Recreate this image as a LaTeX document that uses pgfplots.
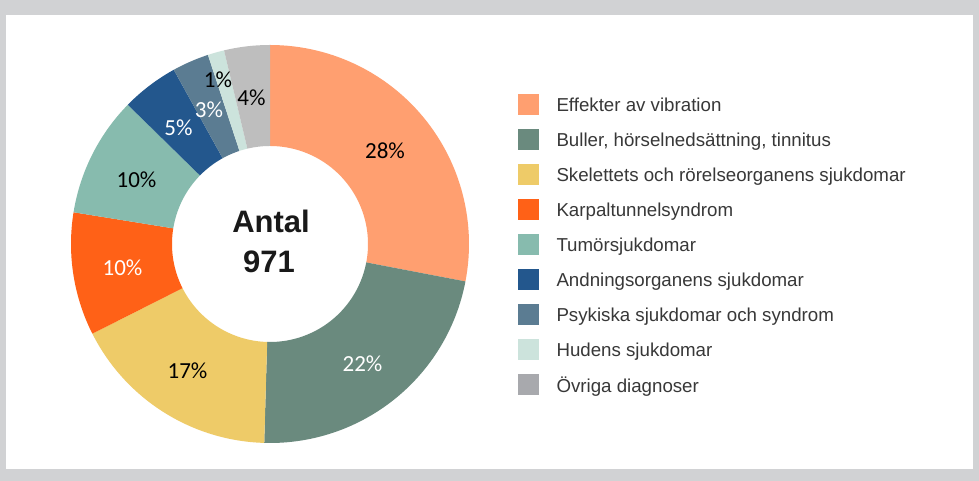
\documentclass[border=0pt]{standalone}
\usepackage{pgfplots}
\pgfplotsset{compat=1.18}
\usepackage{pgfplotstable}
\usepackage{fontspec}
\setmainfont{Liberation Sans}
\newfontfamily\calibri{Carlito}

\definecolor{bg}{HTML}{D1D2D4}
\definecolor{legtext}{HTML}{383838}
\definecolor{c0}{HTML}{FF9F70}
\definecolor{c1}{HTML}{6A8A7E}
\definecolor{c2}{HTML}{EECB68}
\definecolor{c3}{HTML}{FF6117}
\definecolor{c4}{HTML}{87BBAE}
\definecolor{c5}{HTML}{23578D}
\definecolor{c6}{HTML}{5B7C92}
\definecolor{c7}{HTML}{CCE3DC}
\definecolor{c8}{HTML}{BEBEBE}
\definecolor{l8}{HTML}{A8A9AD}

% Antal per diagnosgrupp (totalt 971)
\pgfplotstableread{
idx count
0 272
1 218
2 166
3 97
4 95
5 45
6 29
7 13
8 36
}\datatable

\def\total{0}
\pgfplotsforeachungrouped \i in {0,...,8}{%
  \pgfplotstablegetelem{\i}{count}\of\datatable
  \pgfmathsetmacro\total{\total+\pgfplotsretval}%
}

\begin{document}
\begin{tikzpicture}
\fill[bg] (0,0) rectangle (979pt,481pt);
\fill[white] (6pt,12pt) rectangle (973pt,466pt);
\begin{axis}[
  at={(0,0)}, anchor=south west,
  x=1pt, y=1pt, xmin=0, xmax=979, ymin=0, ymax=481,
  hide axis, clip=false,
  declare function={
    aa(\t,\p,\q)=(\t<=1) ? (\p+(\q-\p)*\t) : ((\t<=2) ? \q : ((\t<=3) ? (\q-(\q-\p)*(\t-2)) : \p));
    rr(\t)=(\t<=1) ? 199 : ((\t<=2) ? (199-101*(\t-1)) : ((\t<=3) ? 98 : (98+101*(\t-3))));
  },
  legend image code/.code={\fill[#1, draw=none] (0pt,-10.5pt) rectangle (21pt,10.5pt);},
  legend cell align=left,
  legend style={at={(axis cs:518,386.5)}, anchor=north west, draw=none, fill=none,
    inner sep=0pt, outer sep=0pt, row sep=14pt,
    font=\fontsize{18.7}{22}\selectfont, text=legtext,
    nodes={inner sep=0pt},
    /tikz/every odd column/.style={column sep=17.5pt}},
]
\def\cum{0}
\pgfplotsforeachungrouped \i in {0,...,8}{%
  \pgfplotstablegetelem{\i}{count}\of\datatable
  \pgfmathsetmacro\sa{90-(\cum/\total)*360}%
  \pgfmathsetmacro\cum{\cum+\pgfplotsretval}%
  \pgfmathsetmacro\sb{90-(\cum/\total)*360}%
  \edef\doit{\noexpand\addplot[fill=c\i, draw=none, domain=0:4, samples=241, forget plot]
    ({270+rr(\noexpand\x)*cos(aa(\noexpand\x,\sa,\sb))},
     {237+rr(\noexpand\x)*sin(aa(\noexpand\x,\sa,\sb))});}%
  \doit
}

\addlegendimage{fill=c0, draw=none}\addlegendentry{Effekter av vibration}
\addlegendimage{fill=c1, draw=none}\addlegendentry{Buller, hörselnedsättning, tinnitus}
\addlegendimage{fill=c2, draw=none}\addlegendentry{Skelettets och rörelseorganens sjukdomar}
\addlegendimage{fill=c3, draw=none}\addlegendentry{Karpaltunnelsyndrom}
\addlegendimage{fill=c4, draw=none}\addlegendentry{Tumörsjukdomar}
\addlegendimage{fill=c5, draw=none}\addlegendentry{Andningsorganens sjukdomar}
\addlegendimage{fill=c6, draw=none}\addlegendentry{Psykiska sjukdomar och syndrom}
\addlegendimage{fill=c7, draw=none}\addlegendentry{Hudens sjukdomar}
\addlegendimage{fill=l8, draw=none}\addlegendentry{Övriga diagnoser}

\begin{scope}[every node/.style={font=\calibri\fontsize{23}{27}\selectfont, inner sep=0pt}]
\node[black] at (axis cs:385,330.5) {28\%};
\node[white] at (axis cs:362.5,117.5) {22\%};
\node[black] at (axis cs:187.5,110.5) {17\%};
\node[white] at (axis cs:122.5,213.5) {10\%};
\node[black] at (axis cs:136.5,301) {10\%};
\node[white] at (axis cs:178.5,353.5) {5\%};
\node[white] at (axis cs:209,371.5) {3\%};
\node[black] at (axis cs:218,401.5) {1\%};
\node[black] at (axis cs:251.5,383.5) {4\%};
\end{scope}

\node[font=\bfseries\fontsize{31}{36}\selectfont, anchor=base, text=black!90] at (axis cs:271,248) {Antal};
\node[font=\bfseries\fontsize{31}{36}\selectfont, anchor=base, text=black!90] at (axis cs:269,208) {971};
\end{axis}
\end{tikzpicture}
\end{document}
